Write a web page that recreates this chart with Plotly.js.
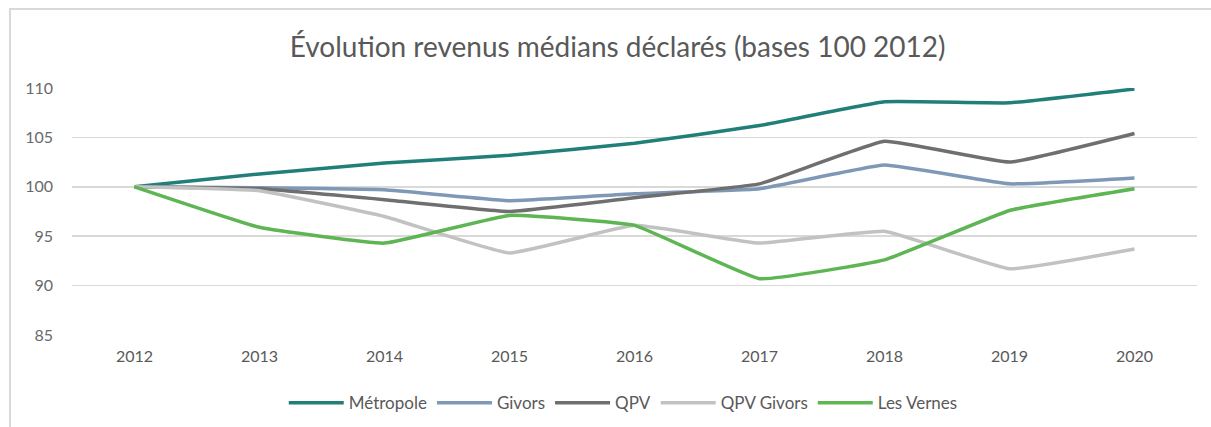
<!DOCTYPE html>
<html>
<head>
<meta charset="utf-8">
<script src="https://cdn.plot.ly/plotly-3.0.1.min.js"></script>
<style>
  html, body { margin: 0; padding: 0; background: #fff; }
  #chart { width: 1211px; height: 427px; position: relative; }
  #frame { position: absolute; left: 9px; top: 8px; width: 1400px; height: 600px;
           border-left: 2px solid #d9d9d9; border-top: 2px solid #d9d9d9; pointer-events: none; }
</style>
</head>
<body>
<div id="chart"><div id="frame"></div></div>
<script>
const years = ['2012','2013','2014','2015','2016','2017','2018','2019','2020'];
const metropole  = [100, 101.3, 102.4, 103.2, 104.4, 106.2, 108.6, 108.5, 109.9];
const givors     = [100, 99.9, 99.7, 98.6, 99.3, 99.8, 102.2, 100.3, 100.9];
const qpv        = [100, 99.8, 98.7, 97.5, 98.9, 100.3, 104.6, 102.5, 105.4];
const qpvGivors  = [100, 99.6, 97.0, 93.3, 96.1, 94.3, 95.5, 91.7, 93.7];
const lesVernes  = [100, 95.9, 94.3, 97.1, 96.1, 90.7, 92.6, 97.6, 99.8];
const seriesNames = ['Métropole', 'Givors', 'QPV', 'QPV Givors', 'Les Vernes'];
const seriesColors = ['#217f79', '#7f98b6', '#6f6f70', '#c2c2c2', '#5db553'];
const yTicks = [85, 90, 95, 100, 105, 110];

const allSeries = [metropole, givors, qpv, qpvGivors, lesVernes];
const traces = allSeries.map((vals, i) => ({
  type: 'scatter',
  mode: 'lines',
  x: years,
  y: vals,
  name: seriesNames[i],
  line: { color: seriesColors[i], width: 3.5, shape: 'spline', smoothing: 0.3 },
  hoverinfo: 'x+y+name'
}));

const font = 'Lato, "Open Sans", sans-serif';
const layout = {
  width: 1211,
  height: 427,
  paper_bgcolor: 'rgba(0,0,0,0)',
  plot_bgcolor: '#fff',
  margin: { l: 72, r: 14, t: 88, b: 92, autoexpand: false },
  font: { family: font, color: '#595959', size: 16 },
  title: {
    text: 'Évolution revenus médians déclarés (bases 100 2012)',
    font: { family: font, size: 28, color: '#595959' },
    x: 0.51, xanchor: 'center',
    y: 0.89, yanchor: 'middle', yref: 'container'
  },
  xaxis: {
    type: 'category',
    range: [-0.5, 8.5],
    showgrid: false,
    zeroline: false,
    showline: false,
    ticks: '',
    tickfont: { size: 16, color: '#595959' },
    ticklabelstandoff: 10
  },
  yaxis: {
    range: [85, 110],
    tickvals: yTicks,
    ticktext: yTicks.map(String),
    showgrid: true,
    gridcolor: '#d9d9d9',
    gridwidth: 1.5,
    zeroline: false,
    showline: false,
    ticks: '',
    tickfont: { size: 16, color: '#6a6a6a' },
    ticklabelstandoff: 18
  },
  showlegend: true,
  legend: {
    orientation: 'h',
    x: 0.49, xanchor: 'center',
    yref: 'container',
    y: 0.056, yanchor: 'middle',
    font: { size: 17, color: '#595959' },
    itemwidth: 55,
    tracegroupgap: 0
  }
};

Plotly.newPlot('chart', traces, layout, { displayModeBar: false, staticPlot: true });
</script>
</body>
</html>
